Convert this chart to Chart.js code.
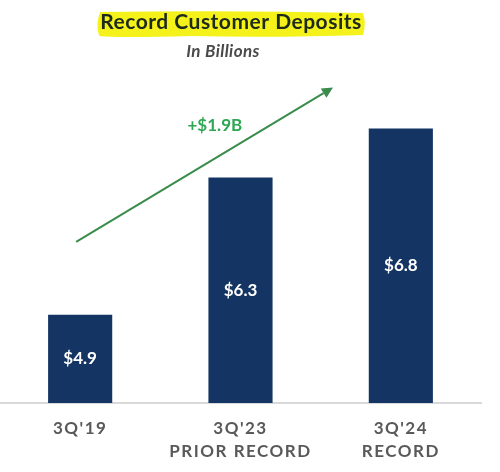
<!DOCTYPE html>
<html><head><meta charset="utf-8">
<script src="https://cdn.jsdelivr.net/npm/chart.js@4"></script>
<style>html,body{margin:0;padding:0;background:#fff;}#wrap{width:500px;height:472px;position:relative;}</style>
</head><body><div id="wrap"><canvas id="c"></canvas></div>
<script>
const chartTitle = "Record Customer Deposits";
const chartSubtitle = "In Billions";
const categories = [["3Q'19"], ["3Q'23", "PRIOR RECORD"], ["3Q'24", "RECORD"]];
const deposits = [4.9, 6.3, 6.8];
const valueLabels = ["$4.9", "$6.3", "$6.8"];
const axisRange = [4, 7.5];
const arrowFrom = [-0.025, 5.645];   // [category index, value]
const arrowTo = [1.577, 7.22];
const arrowLabel = "+$1.9B";
const arrowLabelAt = [0.84, 6.83];

const FONT = "Lato";
const NAVY = "#143563";

const deco = {
  id: 'deco',
  beforeDraw(chart) {
    const ctx = chart.ctx;
    ctx.save();
    ctx.letterSpacing = '0.5px';
    ctx.font = `bold 21px ${FONT}`;
    const w = ctx.measureText(chartTitle).width;
    const cx = 231, base = 29;
    const x0 = cx - w / 2 - 3, x1 = cx + w / 2 + 3;
    ctx.fillStyle = '#f4f21a';
    ctx.beginPath();
    ctx.moveTo(x0 + 3, 12);
    ctx.quadraticCurveTo(cx, 10, x1 - 2, 13);
    ctx.quadraticCurveTo(x1 + 2, 24, x1 - 2, 35);
    ctx.quadraticCurveTo(cx + 40, 38, cx - 40, 36);
    ctx.quadraticCurveTo(x0 + 20, 38, x0 + 2, 36);
    ctx.quadraticCurveTo(x0 - 2, 24, x0 + 3, 12);
    ctx.closePath();
    ctx.fill();
    ctx.fillStyle = '#1e2a1c';
    ctx.textAlign = 'center';
    ctx.textBaseline = 'alphabetic';
    ctx.fillText(chartTitle, cx, base);
    ctx.letterSpacing = '0.4px';
    ctx.font = `italic bold 17px ${FONT}`;
    ctx.fillStyle = '#4a4a4a';
    ctx.fillText(chartSubtitle, 223, 57);
    ctx.restore();
    ctx.letterSpacing = '0px';
  },
  afterDatasetsDraw(chart) {
    const ctx = chart.ctx;
    const xs = chart.scales.x, ys = chart.scales.y;
    ctx.save();
    ctx.letterSpacing = '0px';
    ctx.font = `bold 17px ${FONT}`;
    ctx.fillStyle = '#ffffff';
    ctx.textAlign = 'center';
    ctx.textBaseline = 'middle';
    deposits.forEach((v, i) => {
      const x = xs.getPixelForValue(i);
      const top = ys.getPixelForValue(v);
      const bottom = ys.getPixelForValue(axisRange[0]);
      ctx.fillText(valueLabels[i], x, (top + bottom) / 2);
    });
    ctx.restore();
    ctx.letterSpacing = '1.5px';
  },
  afterDraw(chart) {
    const ctx = chart.ctx;
    ctx.letterSpacing = '0px';
    const xs = chart.scales.x, ys = chart.scales.y;
    const px = (v) => xs.getPixelForValue(v[0]);
    const py = (v) => ys.getPixelForValue(v[1]);
    const sx = px(arrowFrom), sy = py(arrowFrom), ex = px(arrowTo), ey = py(arrowTo);
    const ang = Math.atan2(ey - sy, ex - sx);
    const hl = 11, hw = 5.5;
    ctx.save();
    ctx.strokeStyle = '#3a8c4c';
    ctx.fillStyle = '#3a8c4c';
    ctx.lineWidth = 2;
    ctx.beginPath();
    ctx.moveTo(sx, sy);
    ctx.lineTo(ex - hl * Math.cos(ang), ey - hl * Math.sin(ang));
    ctx.stroke();
    ctx.beginPath();
    ctx.moveTo(ex, ey);
    ctx.lineTo(ex - hl * Math.cos(ang) + hw * Math.sin(ang), ey - hl * Math.sin(ang) - hw * Math.cos(ang));
    ctx.lineTo(ex - hl * Math.cos(ang) - hw * Math.sin(ang), ey - hl * Math.sin(ang) + hw * Math.cos(ang));
    ctx.closePath();
    ctx.fill();
    ctx.font = `bold 17px ${FONT}`;
    ctx.fillStyle = '#2ea653';
    ctx.textAlign = 'center';
    ctx.textBaseline = 'middle';
    ctx.fillText(arrowLabel, px(arrowLabelAt), py(arrowLabelAt));
    ctx.restore();
  }
};

new Chart(document.getElementById('c'), {
  type: 'bar',
  data: {
    labels: categories,
    datasets: [{
      data: deposits,
      backgroundColor: NAVY,
      borderWidth: 0,
      barPercentage: 0.4,
      categoryPercentage: 1.0
    }]
  },
  options: {
    responsive: true,
    maintainAspectRatio: false,
    animation: false,
    layout: { padding: { top: 60, right: 19, left: 0, bottom: 0 } },
    plugins: { legend: { display: false }, tooltip: { enabled: false } },
    scales: {
      x: {
        grid: { display: false },
        border: { display: true, color: '#d9d9d9', width: 2 },
        ticks: {
          z: 1,
          color: '#595959',
          font: { family: FONT, weight: 'bold', size: 17, lineHeight: '23px' },
          padding: 6,
          autoSkip: false,
          maxRotation: 0
        },
        afterFit(s) { s.height = 69; }
      },
      y: { display: false, min: axisRange[0], max: axisRange[1] }
    }
  },
  plugins: [deco]
});
</script></body></html>
